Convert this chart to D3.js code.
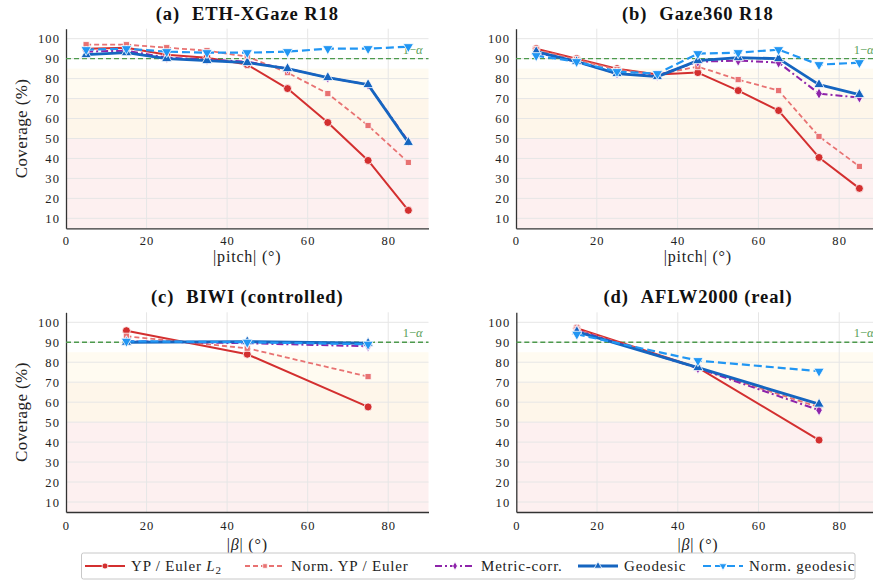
<!DOCTYPE html>
<html>
<head>
<meta charset="utf-8">
<script src="https://cdn.jsdelivr.net/npm/d3@7"></script>
<style>
  body { margin: 0; background: #fff; }
  svg { display: block; }
  svg text { font-family: "Times New Roman", Times, "Liberation Serif", "DejaVu Serif", serif; }
</style>
</head>
<body>
<svg id="chart" width="873" height="581"></svg>
<script>
// bins and ticks
const pitchBins = [5, 15, 25, 35, 45, 55, 65, 75, 85];
const betaBins = [15, 45, 75];
const xTicks = [0, 20, 40, 60, 80];
const yTicks = [10, 20, 30, 40, 50, 60, 70, 80, 90, 100];
const target = 90;

// (a) ETH-XGaze R18
const ethYP = [95, 95.5, 92, 90.5, 87, 75, 58, 39, 14];
const ethNormYP = [97, 97, 95.5, 94, 91, 83, 72.5, 56.5, 38];
const ethMetric = [93.5, 94, 90.5, 89.5, 88.5, 85, 80.5, 77, 48.5];
const ethGeo = [92, 93, 90, 89, 88, 85, 80.5, 77, 48];
const ethNormGeo = [94.5, 95, 93.5, 93, 93, 93.5, 95, 95, 96];

// (b) Gaze360 R18
const gzYP = [95, 90, 85, 82, 83, 74, 64, 40.5, 25];
const gzNormYP = [94.5, 89.5, 84.5, 82, 86, 79.5, 74, 51, 36];
const gzMetric = [93, 88.5, 82.5, 81.5, 88.5, 89, 88, 72.5, 70.5];
const gzGeo = [93.5, 88.5, 82.5, 81, 89, 90.5, 90, 77, 72];
const gzNormGeo = [91.5, 88.5, 83.5, 82.5, 92.5, 93, 94.5, 87, 88];

// (c) BIWI (controlled)
const biYP = [95.8, 84, 57.6];
const biNormYP = [93, 87, 72.8];
const biMetric = [90.5, 89.5, 88];
const biGeo = [90, 90.3, 89.5];
const biNormGeo = [90.5, 90, 89];

// (d) AFLW2000 (real)
const afYP = [97, 77.3, 41];
const afNormYP = [96.5, 77, 57.5];
const afMetric = [96, 77, 56];
const afGeo = [95.3, 77.3, 59];
const afNormGeo = [94, 80.8, 75.5];

const legendLabels = ["YP / Euler", "Norm. YP / Euler", "Metric-corr.", "Geodesic", "Norm. geodesic"];

// look of each method
const styles = [
  { color: "#d32f2f", width: 2, dash: null, sym: d3.symbolCircle, size: 50, rot: 0 },
  { color: "#e87272", width: 1.8, dash: "5,3", sym: d3.symbolSquare, size: 38, rot: 0 },
  { color: "#8e24aa", width: 2, dash: "7,3,2,3", sym: d3.symbolDiamond, size: 36, rot: 0 },
  { color: "#1565c0", width: 2.8, dash: null, sym: d3.symbolTriangle, size: 46, rot: 0 },
  { color: "#2196f3", width: 2.2, dash: "8,4", sym: d3.symbolTriangle, size: 46, rot: 180 },
];

const panels = [
  { title: "(a)", name: "ETH-XGaze R18", bins: pitchBins, series: [ethYP, ethNormYP, ethMetric, ethGeo, ethNormGeo],
    left: 66, right: 428.5, top: 28.7, bottom: 228.3, xlabel: "pitch", ylabel: true, labOff: 34, tickPad: 7.5 },
  { title: "(b)", name: "Gaze360 R18", bins: pitchBins, series: [gzYP, gzNormYP, gzMetric, gzGeo, gzNormGeo],
    left: 516, right: 879.6, top: 28.7, bottom: 228.3, xlabel: "pitch", ylabel: false, labOff: 34, tickPad: 7.5 },
  { title: "(c)", name: "BIWI (controlled)", bins: betaBins, series: [biYP, biNormYP, biMetric, biGeo, biNormGeo],
    left: 66, right: 428.5, top: 312.3, bottom: 512, xlabel: "beta", ylabel: true, labOff: 37.5, tickPad: 9 },
  { title: "(d)", name: "AFLW2000 (real)", bins: betaBins, series: [afYP, afNormYP, afMetric, afGeo, afNormGeo],
    left: 516.3, right: 879.6, top: 312.3, bottom: 512, xlabel: "beta", ylabel: false, labOff: 37.5, tickPad: 9 },
];

const svg = d3.select("#chart");

panels.forEach((p) => {
  const x = d3.scaleLinear().domain([0, 90]).range([p.left, p.right]);
  const y = d3.scaleLinear().domain([5, 105]).range([p.bottom, p.top]);
  const g = svg.append("g");

  // shaded bands
  const bands = [[85, 70, "#fffbf1"], [70, 50, "#fef6ea"], [50, 5, "#fdf0f0"]];
  g.selectAll("rect.band").data(bands).enter().append("rect")
    .attr("x", p.left).attr("width", p.right - p.left)
    .attr("y", (d) => y(d[0])).attr("height", (d) => y(d[1]) - y(d[0]))
    .attr("fill", (d) => d[2]);

  // grid
  g.selectAll("line.hg").data(yTicks).enter().append("line")
    .attr("x1", p.left).attr("x2", p.right)
    .attr("y1", (d) => y(d)).attr("y2", (d) => y(d))
    .attr("stroke", "#e6e6e6").attr("stroke-width", 1);
  g.selectAll("line.vg").data(xTicks.slice(1)).enter().append("line")
    .attr("x1", (d) => x(d)).attr("x2", (d) => x(d))
    .attr("y1", p.top).attr("y2", p.bottom)
    .attr("stroke", "#e6e6e6").attr("stroke-width", 1);

  // axes
  const xa = g.append("g").attr("transform", `translate(0,${p.bottom})`)
    .call(d3.axisBottom(x).tickValues(xTicks).tickSize(0).tickPadding(p.tickPad));
  const ya = g.append("g").attr("transform", `translate(${p.left},0)`)
    .call(d3.axisLeft(y).tickValues(yTicks).tickSize(0).tickPadding(6));
  [xa, ya].forEach((a) => {
    a.select(".domain").attr("stroke", "#333").attr("stroke-width", 1.3);
    a.selectAll("text").attr("font-size", 12.5).attr("letter-spacing", 1.1).attr("fill", "#222");
  });

  // target line
  g.append("line")
    .attr("x1", p.left).attr("x2", p.right)
    .attr("y1", y(target)).attr("y2", y(target))
    .attr("stroke", "#4d9a4d").attr("stroke-width", 1.4).attr("stroke-dasharray", "5,3");
  const tl = g.append("text")
    .attr("x", p.right - 6).attr("y", y(target) - 5)
    .attr("text-anchor", "end").attr("font-size", 12.5).attr("fill", "#5a9f5a");
  tl.append("tspan").text("1\u2212");
  tl.append("tspan").attr("font-style", "italic").text("\u03b1");

  // series
  const line = d3.line().x((d, i) => x(p.bins[i])).y((d) => y(d));
  p.series.forEach((vals, k) => {
    const s = styles[k];
    g.append("path").datum(vals)
      .attr("d", line)
      .attr("fill", "none").attr("stroke", s.color)
      .attr("stroke-width", s.width)
      .attr("stroke-dasharray", s.dash)
      .attr("stroke-linejoin", "round");
    g.selectAll(null).data(vals).enter().append("path")
      .attr("d", d3.symbol(s.sym, s.size))
      .attr("transform", (d, i) => `translate(${x(p.bins[i])},${y(d)}) rotate(${s.rot})`)
      .attr("fill", s.color).attr("stroke", "#fff").attr("stroke-width", 0.8);
  });

  // title
  const t = g.append("text")
    .attr("x", (p.left + p.right) / 2).attr("y", p.top - 9)
    .attr("text-anchor", "middle").attr("font-size", 18.5).attr("letter-spacing", 0.9)
    .attr("font-weight", "bold").attr("fill", "#111");
  t.append("tspan").text(p.title);
  t.append("tspan").attr("dx", 12).text(p.name);

  // x label
  const xl = g.append("text")
    .attr("x", (p.left + p.right) / 2).attr("y", p.bottom + p.labOff)
    .attr("text-anchor", "middle").attr("font-size", 16).attr("letter-spacing", 0.8).attr("fill", "#222");
  if (p.xlabel === "pitch") {
    xl.append("tspan").text("|pitch|  (\u00b0)");
  } else {
    xl.append("tspan").text("|");
    xl.append("tspan").attr("font-style", "italic").text("\u03b2");
    xl.append("tspan").text("|  (\u00b0)");
  }

  if (p.ylabel) {
    const cy = (p.top + p.bottom) / 2;
    g.append("text")
      .attr("transform", `translate(27,${cy}) rotate(-90)`)
      .attr("text-anchor", "middle").attr("font-size", 17).attr("letter-spacing", 0.4).attr("fill", "#222")
      .text("Coverage (%)");
  }
});

// legend
const lg = svg.append("g");
lg.append("rect").attr("x", 81.5).attr("y", 553).attr("width", 773.5).attr("height", 26)
  .attr("rx", 2).attr("fill", "#fff").attr("stroke", "#c8c8c8").attr("stroke-width", 1);
const handleX = [85, 245, 435, 578, 703];
legendLabels.forEach((lab, k) => {
  const s = styles[k];
  const hx = handleX[k];
  const cy = 566;
  lg.append("line").attr("x1", hx).attr("x2", hx + 40).attr("y1", cy).attr("y2", cy)
    .attr("stroke", s.color).attr("stroke-width", s.width).attr("stroke-dasharray", s.dash);
  lg.append("path").attr("d", d3.symbol(s.sym, s.size * 0.55))
    .attr("transform", `translate(${hx + 20},${cy}) rotate(${s.rot})`)
    .attr("fill", s.color).attr("stroke", "#fff").attr("stroke-width", 0.8);
  const tx = lg.append("text").attr("x", hx + 46).attr("y", cy + 5)
    .attr("font-size", 15).attr("letter-spacing", 0.8).attr("fill", "#222").text(lab);
  if (k === 0) {
    tx.append("tspan").attr("font-style", "italic").text(" L");
    tx.append("tspan").attr("font-size", 11).attr("dy", 3).text("2");
  }
});
</script>
</body>
</html>
